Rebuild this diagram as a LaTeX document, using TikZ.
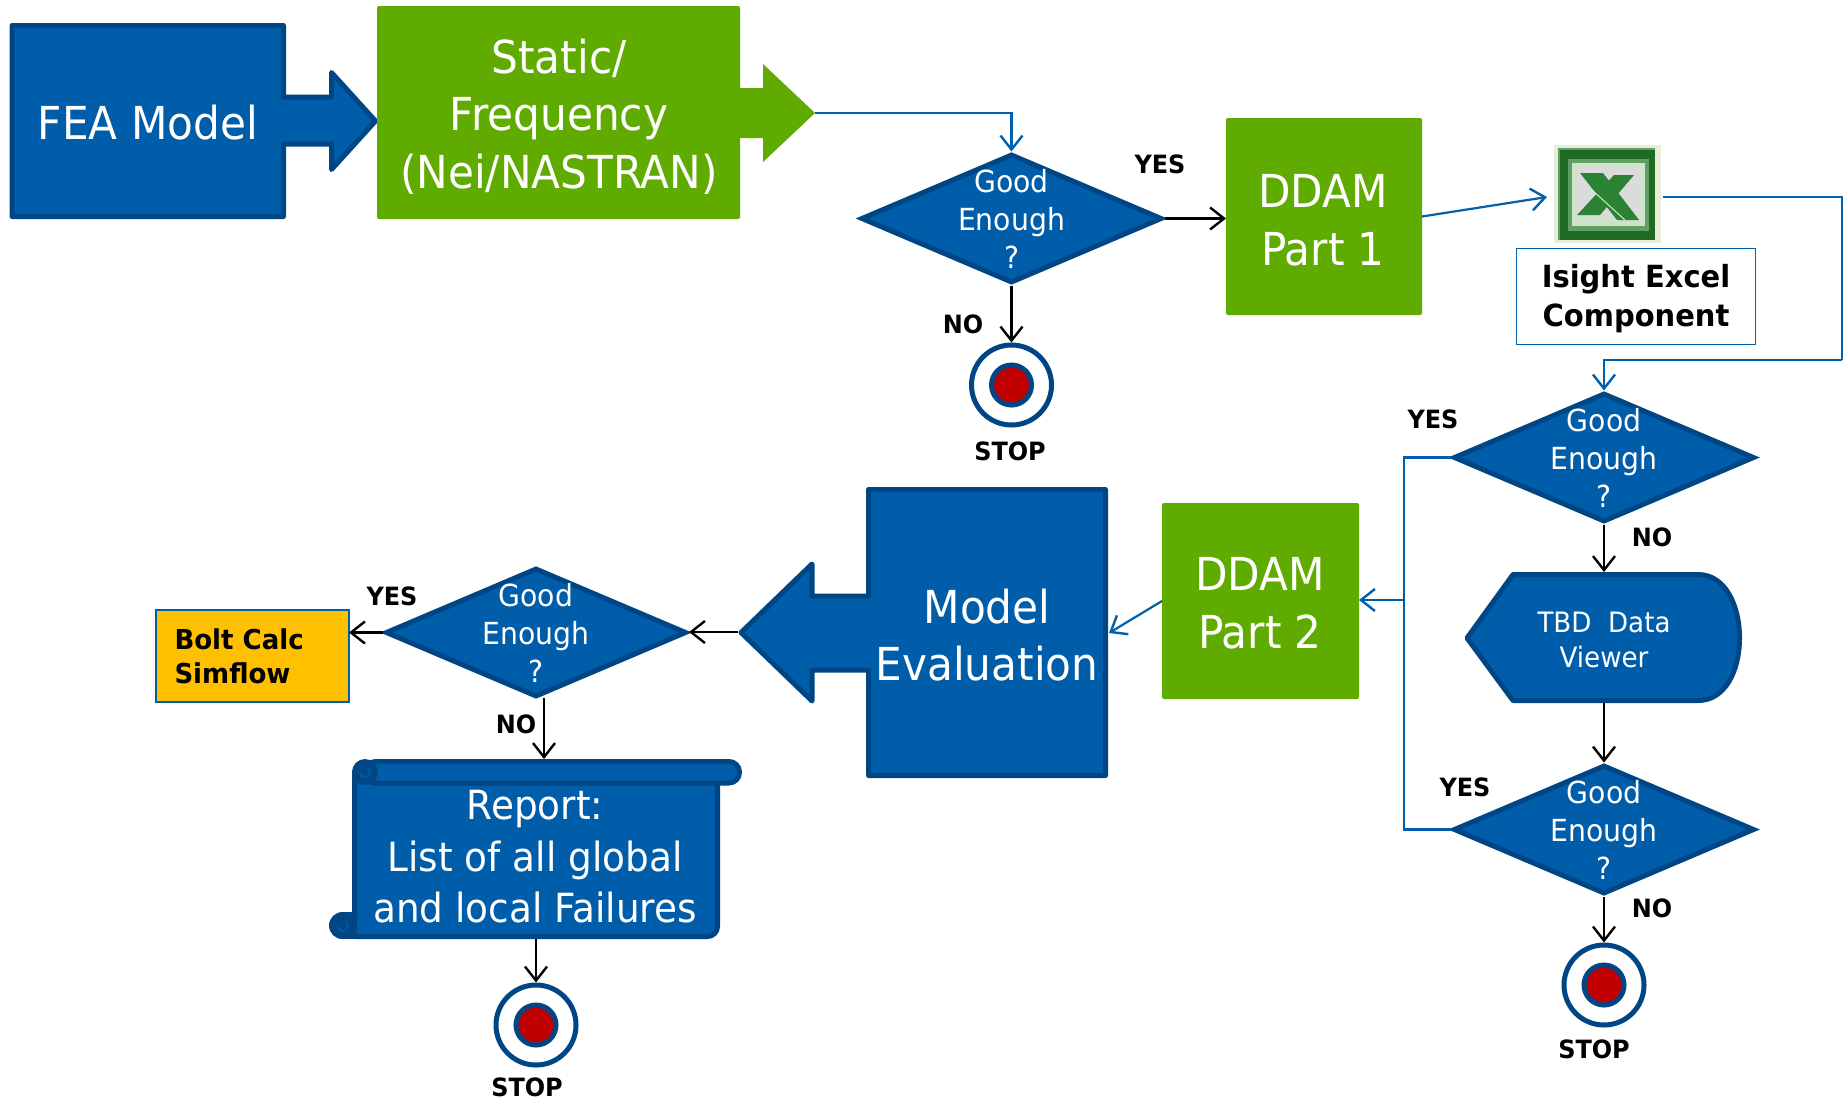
\documentclass[tikz,border=0pt]{standalone}
\usepackage{fontspec}
\usetikzlibrary{arrows.meta,shapes.geometric}
\newfontfamily\diagfont[FakeStretch=0.93]{DejaVu Sans}
\newfontfamily\diagbold[FakeStretch=0.95]{DejaVu Sans Bold}
\definecolor{fblue}{HTML}{005DAA}
\definecolor{eblue}{HTML}{004684}
\definecolor{lblue}{HTML}{0060AD}
\definecolor{fgreen}{HTML}{5FAB00}
\definecolor{fred}{HTML}{C00000}
\definecolor{forange}{HTML}{FFC000}
\definecolor{xbg}{HTML}{E9ECD8}
\definecolor{xdark}{HTML}{1F6B24}
\definecolor{xmid}{HTML}{5E9F63}
\definecolor{xlite}{HTML}{CFE3CC}
\definecolor{xgreen}{HTML}{2B8233}
\tikzset{
  barb/.style={-{Straight Barb[length=7pt,width=11pt,line width=1.2pt]}},
  blk/.style={barb,draw=black,line width=1.2pt},
  blu/.style={barb,draw=lblue,line width=1.1pt},
  blunotip/.style={draw=lblue,line width=1.1pt},
  solidblue/.style={fill=fblue,draw=eblue,line width=2.5pt,line join=round},
  solidgreen/.style={fill=fgreen,draw=none},
  greenbox/.style={fill=fgreen,draw=none,rounded corners=1pt,inner sep=0pt,outer sep=0pt},
  big/.style={text=white,align=center,inner sep=0pt,font=\diagfont\fontsize{22.7}{28.8}\selectfont},
  report/.style={text=white,align=center,inner sep=0pt,font=\diagfont\fontsize{20.1}{25.8}\selectfont},
  dia/.style={diamond,fill=fblue,draw=eblue,line width=2.5pt,aspect=2.35,inner sep=0pt,minimum width=150.5pt,minimum height=64.5pt},
  diatext/.style={text=white,align=center,inner sep=0pt,font=\diagfont\fontsize{15.2}{19}\selectfont},
  tbd/.style={text=white,align=center,inner sep=0pt,font=\diagfont\fontsize{14.05}{17.5}\selectfont},
  lab/.style={text=black,inner sep=0pt,font=\diagbold\fontsize{12.6}{14}\selectfont},
  stopout/.style={circle,fill=white,draw=eblue,line width=2.5pt,minimum size=40pt,inner sep=0pt},
  stopin/.style={circle,fill=fred,draw=eblue,line width=2.5pt,minimum size=20pt,inner sep=0pt},
  labelbox/.style={fill=white,draw=lblue,line width=0.9pt,inner sep=0pt,outer sep=0pt},
  labeltext/.style={text=black,align=center,inner sep=0pt,font=\diagbold\fontsize{15.25}{19.5}\selectfont},
  boltbox/.style={fill=forange,draw=lblue,line width=0.8pt,inner sep=0pt,outer sep=0pt,font=\diagbold\fontsize{13.7}{17}\selectfont},
}
\begin{document}
\begin{tikzpicture}[x=0.5pt,y=-0.5pt]
\useasboundingbox (0,0) rectangle (1846,1100);
\fill[white] (0,0) rectangle (1846,1100);

% FEA Model with arrow
\path[solidblue] (12,25.5) -- (283.5,25.5) -- (283.5,97) -- (331.5,97) -- (331.5,72.5) -- (375.5,121) -- (331.5,169.5) -- (331.5,144) -- (283.5,144) -- (283.5,216.5) -- (12,216.5) -- cycle;
\node[big] (fea) at (148,123) {FEA Model};

% Static / Frequency
\path[solidgreen] (738,88) -- (763,88) -- (763,64) -- (815,113) -- (763,162) -- (763,138) -- (738,138) -- cycle;
\node[greenbox,minimum width=181.5pt,minimum height=106.5pt] (stat) at (558.5,112.5) {};
\node[big] (stattext) at (559,116.5) {Static/\\Frequency\\(Nei/NASTRAN)};
\coordinate (stattip) at (815,113);

% First decision
\node[dia] (d1) at (1011.5,218.5) {};
\node[diatext] (d1t) at (1011.5,219) {Good\\Enough\\?};
\draw[blu] (stattip) -| (d1.north);

% DDAM 1
\node[greenbox,minimum width=98pt,minimum height=98.5pt] (ddam1) at (1324,216.5) {};
\node[big] (ddam1t) at (1323,220) {DDAM\\Part 1};
\coordinate (d1e) at (d1.east);
\draw[blk] (d1e) -- (d1e -| ddam1.west);
\node[lab] (yes1) at (1160,164) {YES};
\node[lab] (no1) at (963,324) {NO};

% First stop
\node[stopout] (s1) at (1011.5,385) {};
\node[stopin] (s1i) at (s1) {};
\node[lab] (s1t) at (1010,451) {STOP};
\draw[blk] (d1.south) -- (s1.north);

% Excel icon
\fill[xbg] (1554,145) rectangle (1661,243);
\fill[xmid] (1558,148) rectangle (1655,240);
\fill[xdark] (1560,150) rectangle (1655,240);
\fill[xmid] (1568,159) rectangle (1649,231);
\fill[xlite] (1572,163) rectangle (1645,226);
\fill[gray!28] (1578,168) rectangle (1640,218);
\fill[xgreen] (1634,175) -- (1614,175) -- (1577,215) -- (1600,215) -- cycle;
\fill[xgreen] (1580,173) -- (1603,173) -- (1639,220) -- (1617,220) -- cycle;
\draw[xlite,line width=.5pt] (1592,190) -- (1625,220);
\coordinate (xlin) at (1547,197);
\coordinate (xlout) at (1663,197);
\draw[blu] (ddam1.east) -- (xlin);

% Isight box
\node[labelbox,minimum width=119.5pt,minimum height=48pt] (isight) at (1636,296.5) {};
\node[labeltext] (isightt) at (1636,298.5) {Isight Excel\\Component};

% Second decision
\node[dia] (d2) at (1604,457.5) {};
\node[diatext] (d2t) at (1604,458) {Good\\Enough\\?};
\coordinate (c1) at (1842,360);
\draw[blunotip] (xlout) -| (c1);
\draw[blu] (c1) -| (d2.north);
\node[lab] (yes2) at (1433,419) {YES};
\node[lab] (no2) at (1652,537) {NO};

% TBD Data Viewer
\path[solidblue] (1513,574.5) -- (1698,574.5) .. controls (1725,574.5) and (1739.5,605) .. (1739.5,638) .. controls (1739.5,671) and (1725,700.5) .. (1698,700.5) -- (1513,700.5) -- (1467,638) -- cycle;
\node[tbd] (tbd) at (1604,640) {TBD\ \ Data\\Viewer};
\coordinate (tbdn) at (1604,572);
\coordinate (tbds) at (1604,703);
\draw[blk] (d2.south) -- (tbdn);

% Third decision
\node[dia] (d3) at (1604,829.5) {};
\node[diatext] (d3t) at (1604,830) {Good\\Enough\\?};
\draw[blk] (tbds) -- (d3.north);
\node[lab] (yes3) at (1465,787) {YES};
\node[lab] (no3) at (1652,908) {NO};

% Second stop
\node[stopout] (s2) at (1604,985) {};
\node[stopin] (s2i) at (s2) {};
\node[lab] (s2t) at (1594,1049) {STOP};
\draw[blk] (d3.south) -- (s2.north);

% DDAM 2
\node[greenbox,minimum width=98.5pt,minimum height=98pt] (ddam2) at (1260.5,601) {};
\node[big] (ddam2t) at (1260,603) {DDAM\\Part 2};
\coordinate (j) at (1404,600);
\draw[blunotip] (d2.west) -| (j);
\draw[blunotip] (d3.west) -| (j);
\draw[blu] (j) -- (j -| ddam2.east);

% Model Evaluation
\path[solidblue] (1105.5,489.5) -- (868.5,489.5) -- (868.5,596) -- (812,596) -- (812,564) -- (741,632.5) -- (812,701) -- (812,670) -- (868.5,670) -- (868.5,775.5) -- (1105.5,775.5) -- cycle;
\node[big] (model) at (987,635) {Model\\Evaluation};
\coordinate (mee) at (1109,633);
\coordinate (metip) at (738,632);
\draw[blu] (ddam2.west) -- (mee);

% Fourth decision
\node[dia] (d4) at (536,632.5) {};
\node[diatext] (d4t) at (536,633) {Good\\Enough\\?};
\draw[blk] (metip) -- (metip -| d4.east);
\node[lab] (yes4) at (392,596) {YES};
\node[lab] (no4) at (516,724) {NO};

% Bolt box
\node[boltbox,minimum width=96.5pt,minimum height=46pt,align=left,text width=78pt] (bolt) at (252.5,656) {Bolt Calc\\Simflow};
\coordinate (d4w) at (d4.west);
\draw[blk] (d4w) -- (d4w -| bolt.east);

% Report scroll
\path[solidblue] (354.5,772) -- (354.5,936.5) -- (707.5,936.5) arc[start angle=90,end angle=0,radius=10] -- (717.5,775) -- cycle;
\fill[eblue] (342.5,925.5) circle[radius=13.5];
\fill[eblue] (342.5,912) rectangle (358,939);
\fill[fblue] (357.2,914) rectangle (362,934);
\draw[fblue!80!eblue,line width=1pt] (338,926) arc[start angle=180,end angle=-60,radius=5];
\path[solidblue,rounded corners=5.3pt] (365,761.5) -- (739.5,761.5) -- (739.5,783) -- (365,783) -- cycle;
\fill[eblue] (365,772) circle[radius=13];
\draw[fblue!80!eblue,line width=1pt] (360,772) arc[start angle=180,end angle=-60,radius=5];
\node[report] (rep) at (535,857) {Report:\\List of all global\\and local Failures};
\coordinate (d4s) at (544,698);
\coordinate (repn) at (544,759);
\coordinate (reps) at (536,939);
\draw[blk] (d4s) -- (repn);

% Third stop
\node[stopout] (s3) at (536,1025) {};
\node[stopin] (s3i) at (s3) {};
\node[lab] (s3t) at (527,1087) {STOP};
\draw[blk] (reps) -- (s3.north);
\end{tikzpicture}
\end{document}
